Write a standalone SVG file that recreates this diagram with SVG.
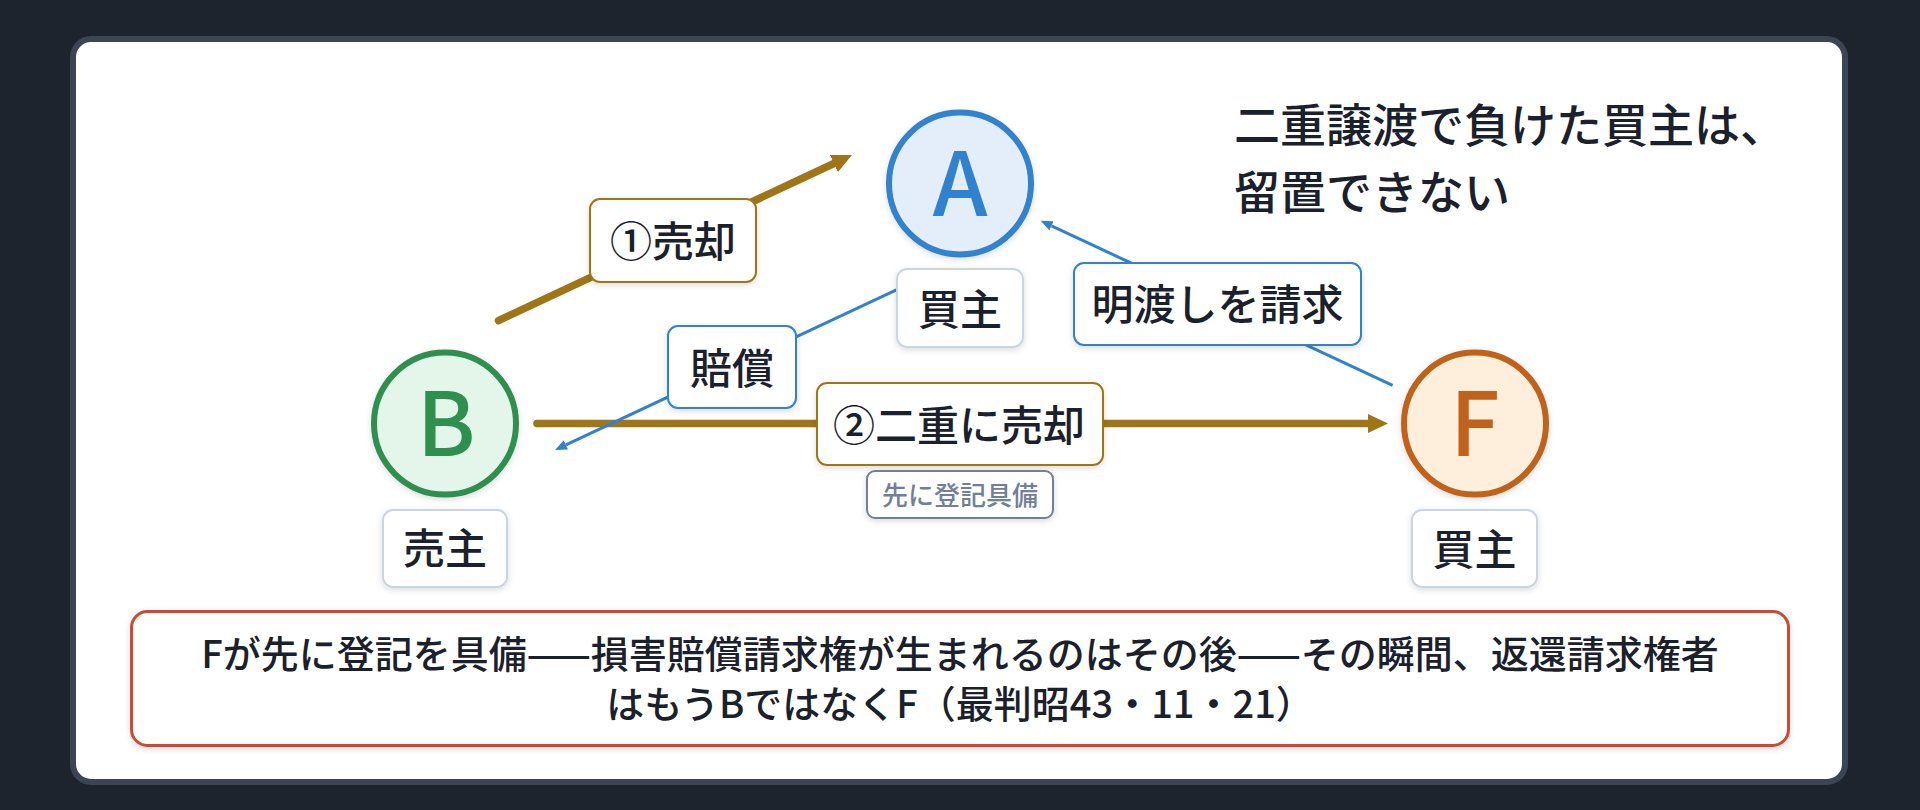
<svg xmlns="http://www.w3.org/2000/svg" width="1920" height="810" viewBox="0 0 1920 810">
  <defs>
    <filter id="sh" x="-20%" y="-20%" width="140%" height="150%">
      <feDropShadow dx="0" dy="2" stdDeviation="3" flood-color="#000" flood-opacity="0.14"/>
    </filter>
    <marker id="ahBrown" markerUnits="userSpaceOnUse" markerWidth="20" markerHeight="19" viewBox="0 0 20 19" refX="0" refY="9.5" orient="auto">
      <path d="M0,0 L20,9.5 L0,19 z" fill="#a07518"/>
    </marker>
    <marker id="ahBlue" markerUnits="userSpaceOnUse" markerWidth="12" markerHeight="10" viewBox="0 0 12 10" refX="0" refY="5" orient="auto">
      <path d="M0,0 L12,5 L0,10 z" fill="#3182ce"/>
    </marker>
  </defs>
  <style>
    text { font-family: "Noto Sans CJK JP", "Noto Sans", sans-serif; fill: #1a202c; }
    .lbl { font-size: 42px; font-weight: 500; text-anchor: middle; }
    .box { fill: #ffffff; stroke-width: 2; }
    .role { stroke: #cbd5e0; }
    .brownb { stroke: #a07518; }
    .blueb { stroke: #3182ce; }
    .letter { font-size: 88px; font-weight: 500; text-anchor: middle; }
    .brown { stroke: #a07518; stroke-width: 7.5; fill: none; stroke-linecap: round; }
    .blue { stroke: #3182ce; stroke-width: 3; fill: none; }
  </style>

  <rect x="0" y="0" width="1920" height="810" fill="#1e242e"/>
  <rect x="73" y="39" width="1772" height="743" rx="18" fill="#ffffff" stroke="#3b4554" stroke-width="6"/>

  <g id="title">
    <text x="1234" y="142" style="font-size:46px;font-weight:500">二重譲渡で負けた買主は、</text>
    <text x="1234" y="209" style="font-size:46px;font-weight:500">留置できない</text>
  </g>

  <g id="connectors">
    <line class="brown" x1="498.5" y1="320.6" x2="833.9" y2="163.5" marker-end="url(#ahBrown)"/>
    <line class="brown" x1="537" y1="423.5" x2="1368" y2="423.5" marker-end="url(#ahBrown)"/>
    <line class="blue" x1="906" y1="285.4" x2="565.9" y2="444.9" marker-end="url(#ahBlue)"/>
    <line class="blue" x1="1392.6" y1="385.4" x2="1051.5" y2="225.8" marker-end="url(#ahBlue)"/>
  </g>

  <g id="edge-label-1">
    <rect class="box brownb" x="590" y="199" width="166" height="83" rx="10" filter="url(#sh)"/>
    <text class="lbl" x="673" y="256.5">①売却</text>
  </g>
  <g id="edge-label-2">
    <rect class="box brownb" x="817" y="383" width="286" height="82" rx="10" filter="url(#sh)"/>
    <text class="lbl" x="959" y="440.5">②二重に売却</text>
  </g>
  <g id="edge-note-2">
    <rect x="867" y="471" width="186" height="47" rx="8" fill="#ffffff" stroke="#718096" stroke-width="2" filter="url(#sh)"/>
    <text x="960" y="505" style="font-size:26px;font-weight:500;text-anchor:middle;fill:#718096">先に登記具備</text>
  </g>
  <g id="edge-label-3">
    <rect class="box blueb" x="668" y="326" width="128" height="82" rx="10" filter="url(#sh)"/>
    <text class="lbl" x="732" y="384">賠償</text>
  </g>
  <g id="edge-label-4">
    <rect class="box blueb" x="1074" y="263" width="287" height="82" rx="10" filter="url(#sh)"/>
    <text class="lbl" x="1217.5" y="319.5">明渡しを請求</text>
  </g>

  <g id="node-A">
    <circle cx="960" cy="183.5" r="71" fill="#e3eefa" stroke="#3182ce" stroke-width="6" filter="url(#sh)"/>
    <text class="letter" x="960" y="216" style="fill:#3182ce">A</text>
    <rect class="box role" x="897" y="269" width="126" height="78" rx="10" filter="url(#sh)"/>
    <text class="lbl" x="960" y="325.3">買主</text>
  </g>
  <g id="node-B">
    <circle cx="445" cy="423.6" r="71" fill="#e4f5e9" stroke="#2f8f4f" stroke-width="6" filter="url(#sh)"/>
    <text class="letter" x="446" y="455.7" style="fill:#2f8f4f">B</text>
    <rect class="box role" x="383" y="510" width="124" height="77" rx="10" filter="url(#sh)"/>
    <text class="lbl" x="445" y="564.3">売主</text>
  </g>
  <g id="node-F">
    <circle cx="1475" cy="423.6" r="71" fill="#feeedc" stroke="#c0621e" stroke-width="6" filter="url(#sh)"/>
    <text class="letter" x="1475" y="455.7" style="fill:#c0621e">F</text>
    <rect class="box role" x="1412" y="510" width="125" height="77" rx="10" filter="url(#sh)"/>
    <text class="lbl" x="1474.5" y="565">買主</text>
  </g>

  <g id="conclusion">
    <rect x="131.5" y="611.5" width="1657" height="134" rx="16" fill="#ffffff" stroke="#cf4a31" stroke-width="3" filter="url(#sh)"/>
    <text x="960" y="668" style="font-size:38px;font-weight:500;text-anchor:middle">Fが先に登記を具備——損害賠償請求権が生まれるのはその後——その瞬間、返還請求権者</text>
    <text x="960" y="718" style="font-size:38px;font-weight:500;text-anchor:middle">はもうBではなくF（最判昭43・11・21）</text>
  </g>
</svg>
